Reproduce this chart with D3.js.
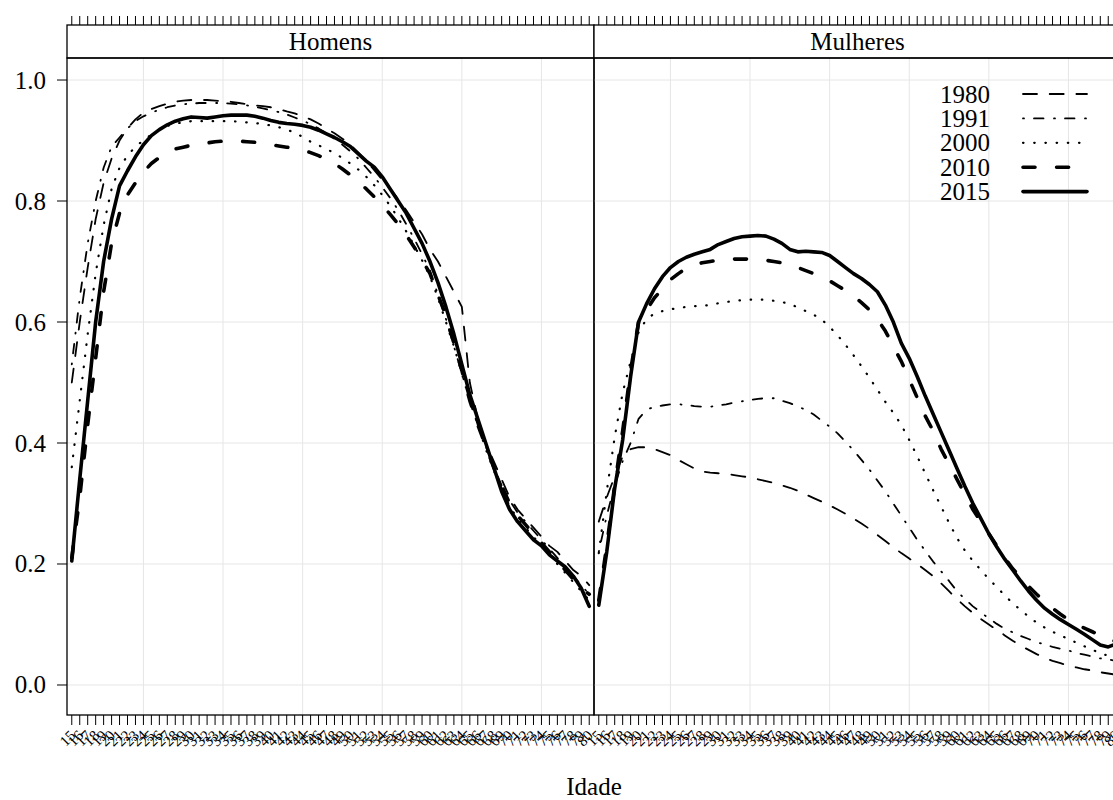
<!DOCTYPE html>
<html>
<head>
<meta charset="utf-8">
<script src="https://cdn.jsdelivr.net/npm/d3@7"></script>
<style>
  body { margin: 0; background: #fff; }
</style>
</head>
<body>
<svg width="1113" height="800"></svg>
<script>
// ages (x categories)
let ages = [15,16,17,18,19,20,21,22,23,24,25,26,27,28,29,30,31,32,33,34,35,36,37,38,39,40,
  41,42,43,44,45,46,47,48,49,50,51,52,53,54,55,56,57,58,59,60,61,62,63,64,65,66,67,68,69,70,
  71,72,73,74,75,76,77,78,79,80];
let panels = ["Homens", "Mulheres"];
let years = ["1980", "1991", "2000", "2010", "2015"];
let yTicks = [0, 0.2, 0.4, 0.6, 0.8, 1.0];
let gridPos = [24, 34, 44, 54, 64, 74];

// Homens
let men1980 = [.50,.60,.69,.77,.83,.87,.90,.92,.935,.946,
  .952,.957,.961,.964,.966,.967,.967,.967,.966,.965,
  .964,.962,.96,.958,.957,.955,.952,.948,.945,.94,
  .935,.928,.92,.912,.903,.893,.88,.866,.851,.835,
  .82,.803,.785,.765,.745,.72,.70,.675,.65,.625,
  .50,.44,.40,.37,.34,.31,.29,.275,.26,.245,
  .23,.22,.205,.19,.18,.165];
let men1991 = [.53,.64,.73,.80,.855,.89,.905,.92,.932,.94,
  .946,.951,.955,.958,.96,.961,.962,.962,.962,.962,
  .961,.96,.958,.956,.953,.95,.947,.943,.938,.933,
  .927,.92,.912,.903,.893,.882,.87,.855,.84,.823,
  .805,.785,.762,.738,.712,.685,.645,.605,.56,.515,
  .47,.43,.395,.36,.33,.305,.285,.27,.255,.24,
  .225,.21,.195,.18,.165,.15];
let men2000 = [.36,.47,.58,.68,.76,.82,.855,.875,.89,.90,
  .91,.918,.924,.928,.93,.932,.932,.932,.932,.932,
  .932,.931,.93,.929,.927,.925,.922,.918,.913,.906,
  .898,.892,.886,.879,.871,.862,.852,.84,.826,.81,
  .792,.772,.75,.727,.702,.675,.64,.60,.56,.515,
  .47,.43,.39,.355,.325,.295,.275,.26,.245,.23,
  .215,.20,.185,.17,.155,.14];
let men2010 = [.21,.31,.43,.54,.65,.73,.78,.81,.83,.848,
  .862,.872,.88,.886,.889,.892,.894,.896,.898,.899,
  .899,.899,.898,.897,.895,.893,.891,.889,.887,.884,
  .88,.875,.869,.862,.853,.843,.832,.82,.807,.793,
  .778,.762,.744,.724,.703,.68,.645,.61,.565,.52,
  .47,.43,.395,.36,.33,.30,.28,.265,.25,.235,
  .22,.205,.19,.175,.16,.15];
let men2015 = [.205,.34,.47,.60,.70,.77,.825,.85,.873,.893,
  .908,.918,.926,.932,.936,.939,.938,.937,.939,.941,
  .942,.942,.942,.94,.937,.933,.93,.928,.927,.925,
  .922,.917,.911,.905,.898,.89,.878,.866,.856,.84,
  .82,.80,.78,.755,.73,.70,.665,.625,.58,.53,
  .48,.44,.40,.36,.32,.29,.27,.255,.24,.23,
  .215,.205,.195,.18,.16,.13];

// Mulheres
let women1980 = [.27,.31,.345,.378,.39,.393,.393,.39,.385,.38,
  .372,.365,.358,.353,.351,.35,.349,.347,.345,.343,
  .34,.337,.334,.33,.326,.321,.315,.309,.303,.297,
  .29,.283,.275,.267,.258,.248,.238,.228,.218,.209,
  .20,.19,.18,.168,.155,.142,.13,.119,.109,.10,
  .091,.082,.073,.065,.058,.051,.045,.04,.036,.032,
  .029,.026,.024,.021,.019,.017];
let women1991 = [.22,.28,.33,.37,.40,.44,.455,.46,.462,.464,
  .464,.463,.461,.46,.46,.462,.464,.467,.469,.471,
  .473,.474,.474,.47,.466,.46,.455,.447,.437,.427,
  .416,.402,.388,.372,.356,.338,.32,.30,.28,.26,
  .24,.222,.204,.188,.172,.155,.142,.13,.12,.11,
  .101,.093,.087,.081,.076,.071,.067,.063,.06,.057,
  .053,.05,.047,.044,.042,.04];
let women2000 = [.218,.32,.41,.483,.535,.583,.605,.614,.618,.621,
  .623,.625,.626,.627,.628,.631,.633,.635,.636,.637,
  .637,.637,.635,.633,.63,.624,.618,.612,.604,.592,
  .578,.562,.545,.527,.508,.488,.468,.45,.43,.405,
  .378,.35,.322,.295,.268,.243,.222,.205,.19,.175,
  .162,.148,.135,.124,.113,.103,.095,.088,.082,.076,
  .07,.064,.058,.053,.048,.044];
let women2010 = [.14,.23,.33,.42,.52,.60,.62,.64,.655,.67,
  .68,.689,.694,.698,.70,.702,.703,.704,.704,.704,
  .703,.702,.70,.698,.694,.69,.685,.68,.675,.668,
  .66,.652,.643,.632,.62,.605,.585,.56,.535,.505,
  .475,.445,.42,.39,.365,.34,.315,.29,.27,.25,
  .23,.21,.192,.178,.163,.15,.138,.127,.117,.108,
  .10,.094,.088,.082,.076,.072];
let women2015 = [.132,.22,.325,.405,.51,.60,.63,.655,.675,.69,
  .70,.707,.712,.716,.72,.728,.733,.738,.741,.742,
  .743,.742,.737,.73,.72,.716,.717,.716,.715,.71,
  .70,.69,.68,.672,.662,.65,.628,.60,.565,.54,
  .51,.478,.448,.418,.388,.358,.328,.30,.275,.25,
  .228,.208,.19,.172,.155,.14,.127,.117,.108,.10,
  .092,.084,.075,.066,.063,.068];

let menSeries = [men1980, men1991, men2000, men2010, men2015];
let womenSeries = [women1980, women1991, women2000, women2010, women2015];

// line styles per year (lattice-ish lty)
let styles = [
  {w: 1.8, dash: "14,12.7"},
  {w: 1.8, dash: "1,10,9.5,10.5"},
  {w: 2.2, dash: "0.5,10.7"},
  {w: 3.6, dash: "12,21.6"},
  {w: 3.6, dash: null}
];

let serif = "'Liberation Serif', 'Times New Roman', Times, serif";

let svg = d3.select("svg").style("font-family", serif);
let panelW = 527, plotL = 67, plotT = 58, plotB = 715, stripT = 25;

let y = d3.scaleLinear().domain([-0.0496, 1.0364]).range([plotB, plotT]);

panels.forEach((name, p) => {
  let x0 = plotL + p * panelW;
  let x = d3.scaleLinear().domain([14.4, 80.6]).range([x0, x0 + panelW]);
  let g = svg.append("g");

  g.append("clipPath").attr("id", "clip" + p)
    .append("rect").attr("x", x0).attr("y", plotT).attr("width", panelW).attr("height", plotB - plotT);

  // grid
  g.selectAll(".gx").data(gridPos).enter().append("line")
    .attr("x1", d => x(d)).attr("x2", d => x(d))
    .attr("y1", plotT).attr("y2", plotB)
    .attr("stroke", "#e6e6e6").attr("stroke-width", 1);
  g.selectAll(".gy").data(yTicks).enter().append("line")
    .attr("x1", x0).attr("x2", x0 + panelW)
    .attr("y1", d => y(d)).attr("y2", d => y(d))
    .attr("stroke", "#e6e6e6").attr("stroke-width", 1);

  // curves
  let data = p == 0 ? menSeries : womenSeries;
  let line = d3.line().x((d, i) => x(ages[i])).y(d => y(d));
  g.append("g").attr("clip-path", "url(#clip" + p + ")")
    .selectAll("path").data(data).enter().append("path")
    .attr("d", line)
    .attr("fill", "none")
    .attr("stroke", "#000")
    .attr("stroke-width", (d, i) => styles[i].w)
    .attr("stroke-dasharray", (d, i) => styles[i].dash)
    .attr("stroke-linecap", "round")
    .attr("stroke-linejoin", "round");

  // bottom axis
  let bx = g.append("g").attr("transform", "translate(0," + plotB + ")");
  bx.selectAll("line").data(ages).enter().append("line")
    .attr("x1", d => x(d)).attr("x2", d => x(d))
    .attr("y1", 0).attr("y2", 10)
    .attr("stroke", "#000").attr("stroke-width", 1);
  bx.selectAll("text").data(ages).enter().append("text")
    .attr("transform", d => "translate(" + (x(d) + 1) + ",18) rotate(-45)")
    .attr("text-anchor", "end")
    .attr("dominant-baseline", "central")
    .style("font-family", serif)
    .style("font-size", "15px")
    .text(d => d);

  // top ticks
  g.selectAll(".tt").data(ages).enter().append("line")
    .attr("x1", d => x(d)).attr("x2", d => x(d))
    .attr("y1", stripT).attr("y2", stripT - 9)
    .attr("stroke", "#000").attr("stroke-width", 1);

  // strip
  g.append("rect").attr("x", x0).attr("y", stripT).attr("width", panelW).attr("height", plotT - stripT)
    .attr("fill", "#fff").attr("stroke", "#000").attr("stroke-width", 1.3);
  g.append("text").attr("x", x0 + panelW / 2).attr("y", (stripT + plotT) / 2)
    .attr("text-anchor", "middle").attr("dominant-baseline", "central")
    .style("font-family", serif)
    .style("font-size", "25px").text(name);

  // panel border
  g.append("rect").attr("x", x0).attr("y", plotT).attr("width", panelW).attr("height", plotB - plotT)
    .attr("fill", "none").attr("stroke", "#000").attr("stroke-width", 1.3);
});

// y axis
let ya = svg.append("g");
ya.selectAll("line").data(yTicks).enter().append("line")
  .attr("x1", plotL - 10).attr("x2", plotL)
  .attr("y1", d => y(d)).attr("y2", d => y(d))
  .attr("stroke", "#000").attr("stroke-width", 1);
ya.selectAll("text").data(yTicks).enter().append("text")
  .attr("x", plotL - 21).attr("y", d => y(d))
  .attr("text-anchor", "end").attr("dominant-baseline", "central")
  .style("font-family", serif)
  .style("font-size", "25px")
  .text(d => d3.format(".1f")(d));

// x label
svg.append("text").attr("x", plotL + panelW).attr("y", 795)
  .attr("text-anchor", "middle")
  .style("font-family", serif)
  .style("font-size", "25px").text("Idade");

// legend
let leg = svg.append("g").selectAll("g").data(years).enter().append("g")
  .attr("transform", (d, i) => "translate(0," + (94 + i * 24.4) + ")");
leg.append("text").attr("x", 990).attr("y", 0)
  .attr("text-anchor", "end").attr("dominant-baseline", "central")
  .style("font-family", serif)
  .style("font-size", "25px").text(d => d);
leg.append("line").attr("x1", 1023).attr("x2", 1087).attr("y1", 0).attr("y2", 0)
  .attr("stroke", "#000")
  .attr("stroke-width", (d, i) => styles[i].w)
  .attr("stroke-dasharray", (d, i) => styles[i].dash)
  .attr("stroke-linecap", "round");
</script>
</body>
</html>
